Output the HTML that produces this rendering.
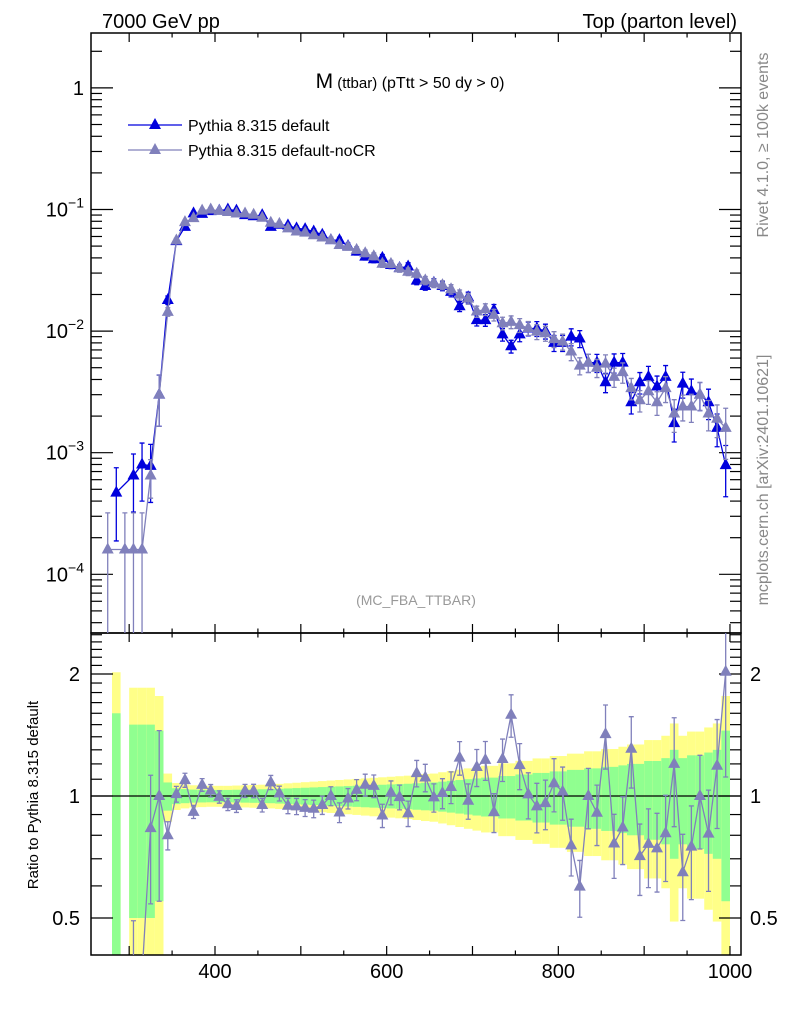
<!DOCTYPE html>
<html><head><meta charset="utf-8"><style>
html,body{margin:0;padding:0;background:#fff;width:786px;height:1024px;overflow:hidden;}
svg{display:block;font-family:"Liberation Sans","DejaVu Sans",sans-serif;}
</style></head><body>
<svg id="chart" width="786" height="1024" viewBox="0 0 786 1024" xmlns="http://www.w3.org/2000/svg">
<defs>
<clipPath id="clipMain"><rect x="91" y="33" width="650" height="600"/></clipPath>
<clipPath id="clipRatio"><rect x="91" y="633" width="650" height="322"/></clipPath>
</defs>
<g id="bands" clip-path="url(#clipRatio)"></g>
<g id="axes"></g>
<g id="mainSeries" clip-path="url(#clipMain)"></g>
<g id="ratioSeries" clip-path="url(#clipRatio)"></g>
<text x="102" y="28" font-size="20">7000 GeV pp</text>
<text x="737" y="28" font-size="20" text-anchor="end">Top (parton level)</text>
<text x="410" y="88" text-anchor="middle"><tspan font-size="21">M</tspan><tspan font-size="15"> (ttbar)</tspan><tspan font-size="16"> (pTtt &gt; 50 dy &gt; 0)</tspan></text>
<g>
<g>
<line x1="128" y1="125" x2="182" y2="125" stroke="#0000dd" stroke-width="1.3"/>
<polygon points="155,118 161,129 149,129" fill="#0000dd"/>
<text x="188" y="131" font-size="16">Pythia 8.315 default</text>
</g>
<g>
<line x1="128" y1="150" x2="182" y2="150" stroke="#8080bb" stroke-width="1.3"/>
<polygon points="155,143 161,154 149,154" fill="#8080bb"/>
<text x="188" y="156" font-size="16">Pythia 8.315 default-noCR</text>
</g>
</g>
<text x="416" y="605" font-size="14" fill="#999" text-anchor="middle">(MC_FBA_TTBAR)</text>
<text transform="translate(768,145) rotate(-90)" font-size="16" fill="#888" text-anchor="middle">Rivet 4.1.0, ≥ 100k events</text>
<text transform="translate(768,480) rotate(-90)" font-size="16" fill="#888" text-anchor="middle">mcplots.cern.ch [arXiv:2401.10621]</text>
<text transform="translate(38,795) rotate(-90)" font-size="15" text-anchor="middle">Ratio to Pythia 8.315 default</text>
</svg>
<script>
const binCenters = [275,285,295,305,315,325,335,345,355,365,375,385,395,405,415,425,435,445,455,465,475,485,495,505,515,525,535,545,555,565,575,585,595,605,615,625,635,645,655,665,675,685,695,705,715,725,735,745,755,765,775,785,795,805,815,825,835,845,855,865,875,885,895,905,915,925,935,945,955,965,975,985,995];
const defaultVals = [null,4.7e-4,null,6.5e-4,8.0e-4,7.8e-4,3.0e-3,0.018,0.055,0.072,0.093,0.092,0.097,0.098,0.100,0.098,0.090,0.088,0.090,0.072,0.075,0.074,0.070,0.069,0.066,0.062,0.056,0.056,0.050,0.045,0.041,0.039,0.040,0.035,0.033,0.034,0.026,0.0235,0.025,0.0235,0.021,0.016,0.019,0.0123,0.0123,0.0149,0.0094,0.0075,0.0094,0.0105,0.0105,0.0100,0.0080,0.0080,0.0090,0.0087,0.0055,0.0055,0.0038,0.0055,0.0055,0.0026,0.0038,0.0042,0.0035,0.0042,0.00175,0.0037,0.0032,0.0030,0.0026,0.0016,0.00079];
const noCRVals = [1.6e-4,null,1.6e-4,1.6e-4,1.6e-4,6.5e-4,3.0e-3,0.0144,0.0556,0.0788,0.085,0.098,0.100,0.0975,0.0954,0.0926,0.0927,0.0906,0.0855,0.0778,0.0761,0.070,0.066,0.0645,0.0614,0.0589,0.056,0.051,0.0493,0.0466,0.0437,0.0413,0.0358,0.0357,0.0328,0.0308,0.0296,0.0261,0.0248,0.0239,0.0221,0.0199,0.0185,0.0145,0.0151,0.0136,0.0116,0.0119,0.0112,0.0106,0.0099,0.0096,0.0086,0.0082,0.0068,0.0052,0.0055,0.0050,0.0054,0.0042,0.0046,0.0034,0.0027,0.0032,0.0026,0.0034,0.0021,0.0024,0.0024,0.0030,0.0021,0.0019,0.0016];
const relErrDefault = [null,0.6,null,0.5,0.5,0.5,0.45,0.08,0.045,0.04,0.037,0.036,0.035,0.035,0.035,0.036,0.037,0.038,0.039,0.04,0.042,0.044,0.046,0.048,0.05,0.052,0.054,0.056,0.058,0.06,0.062,0.064,0.066,0.068,0.07,0.072,0.075,0.078,0.08,0.085,0.09,0.095,0.1,0.105,0.11,0.11,0.12,0.12,0.13,0.13,0.14,0.14,0.15,0.15,0.16,0.16,0.17,0.17,0.18,0.18,0.19,0.2,0.2,0.22,0.22,0.24,0.3,0.24,0.26,0.26,0.28,0.3,0.45];
const relErrNoCR = [1.0,null,1.0,1.0,1.0,0.35,0.45,0.08,0.045,0.04,0.037,0.036,0.035,0.035,0.035,0.036,0.037,0.038,0.039,0.04,0.042,0.044,0.046,0.048,0.05,0.052,0.054,0.056,0.058,0.06,0.062,0.064,0.066,0.068,0.07,0.072,0.075,0.078,0.08,0.085,0.09,0.095,0.1,0.105,0.11,0.11,0.12,0.12,0.13,0.13,0.14,0.14,0.15,0.15,0.16,0.16,0.17,0.17,0.18,0.18,0.19,0.2,0.2,0.22,0.22,0.24,0.3,0.24,0.26,0.26,0.28,0.3,0.45];
const xTickLabels = [400,600,800,1000];
const yDecades = [-4,-3,-2,-1,0];
const ratioTickLabels = [0.5,1,2];

const NS = "http://www.w3.org/2000/svg";
const BIN_W = 10, YELLOW_K = 1.7;
const X0 = 91, X1 = 741, MT = 33, MB = 633, RB = 955;
function xs(v){ return 215 + (v - 400) * 0.8583; }
function ys(v){ return 452.7 - 121.6 * (Math.log10(v) + 3); }
function yr(r){ return 796 - 122 * Math.log2(r); }
function clampY(y, lo, hi){ return Math.max(lo, Math.min(hi, y)); }
function mk(tag, attrs, parent){ const e = document.createElementNS(NS, tag); for (const k in attrs) e.setAttribute(k, attrs[k]); parent.appendChild(e); return e; }

const axes = document.getElementById('axes');
const bands = document.getElementById('bands');
const mainG = document.getElementById('mainSeries');
const ratioG = document.getElementById('ratioSeries');

binCenters.forEach((c, i) => {
  const e = relErrDefault[i];
  if (e == null || defaultVals[i] == null) return;
  const xa = xs(c - BIN_W/2), xb = xs(c + BIN_W/2);
  const ylo = 1 - YELLOW_K*e, yhi = 1 + YELLOW_K*e;
  const yt = clampY(yr(yhi), MB, RB), ybt = ylo > 0 ? clampY(yr(ylo), MB, RB) : RB;
  const yb = mk('rect', {x: xa, y: yt, width: xb - xa, height: ybt - yt, fill: '#ffff88'}, bands);
  
  
  const glo = 1 - e, ghi = 1 + e;
  const gt = clampY(yr(ghi), MB, RB), gbt = glo > 0 ? clampY(yr(glo), MB, RB) : RB;
  const gb = mk('rect', {x: xa, y: gt, width: xb - xa, height: gbt - gt, fill: '#90ff90'}, bands);
  
  
});

const f1 = mk('rect', {x: X0, y: MT, width: X1-X0, height: MB-MT, fill: 'none', stroke: '#000', 'stroke-width': 1.5}, axes);


const f2 = mk('rect', {x: X0, y: MB, width: X1-X0, height: RB-MB, fill: 'none', stroke: '#000', 'stroke-width': 1.5}, axes);



for (let v = 300; v <= 1010; v += 50) {
  const x = xs(v); if (x < X0 || x > X1) continue;
  const major = v % 100 === 0;
  const L = major ? 9 : 4.5;
  [[RB, -1], [MB, 1], [MB, -1], [MT, 1]].forEach(([y0, d]) => {
    const t = mk('line', {x1: x, x2: x, y1: y0, y2: y0 + d*L, stroke: '#000', 'stroke-width': 1.2}, axes);
    
    
  });
}
xTickLabels.forEach(v => {
  const t = mk('text', {x: xs(v), y: 978, 'font-size': 20, 'text-anchor': 'middle'}, axes);
  t.textContent = v;
  
  
});

for (let d = -5; d <= 0; d++) {
  for (let m = 1; m <= 9; m++) {
    const y = ys(m * Math.pow(10, d));
    if (y < MT || y > MB) continue;
    const L = m === 1 ? 22 : 11;
    [[X0, 1], [X1, -1]].forEach(([x0, s]) => {
      const t = mk('line', {x1: x0, x2: x0 + s*L, y1: y, y2: y, stroke: '#000', 'stroke-width': 1.2}, axes);
      
      
    });
  }
}
yDecades.forEach(d => {
  const y = ys(Math.pow(10, d));
  const t = mk('text', {x: 84, y: y + 7, 'font-size': 20, 'text-anchor': 'end'}, axes);
  
  
  if (d === 0) { t.textContent = '1'; }
  else {
    const a = document.createElementNS(NS, 'tspan'); a.textContent = '10'; t.appendChild(a);
    const b = document.createElementNS(NS, 'tspan'); b.setAttribute('dy', '-9'); b.setAttribute('font-size', '14'); b.textContent = String(d).replace('-', '\u2212'); t.appendChild(b);
  }
});

for (let k = 4; k <= 25; k++) {
  const r = k / 10;
  const y = yr(r); if (y < MB || y > RB) continue;
  const major = (k === 5 || k === 10 || k === 20);
  const L = major ? 22 : 11;
  [[X0, 1], [X1, -1]].forEach(([x0, s]) => {
    const t = mk('line', {x1: x0, x2: x0 + s*L, y1: y, y2: y, stroke: '#000', 'stroke-width': 1.2}, axes);
    
    
  });
}
ratioTickLabels.forEach(r => {
  const y = yr(r) + 7;
  const a = mk('text', {x: 80, y: y, 'font-size': 20, 'text-anchor': 'end'}, axes);
  a.textContent = r;
  
  
  const b = mk('text', {x: 750, y: y, 'font-size': 20, 'text-anchor': 'start'}, axes);
  b.textContent = r;
  
  
});
const one = mk('line', {x1: X0, x2: X1, y1: yr(1), y2: yr(1), stroke: '#000', 'stroke-width': 1.3}, axes);



function tri(g, x, y, col, name){
  const p = mk('polygon', {points: `${x},${y-7} ${x+6},${y+4} ${x-6},${y+4}`, fill: col}, g);
  
  
}
function errbar(g, x, y1, y2, col){
  const e = mk('path', {d: `M${x},${y1}V${y2}M${x-2.5},${y1}H${x+2.5}M${x-2.5},${y2}H${x+2.5}`, stroke: col, 'stroke-width': 1.3, fill: 'none'}, g);
  
  
}
function drawMain(vals, errs, col, name){
  const g = mk('g', {}, mainG);
  
  
  const pts = [];
  binCenters.forEach((c, i) => { if (vals[i] != null) pts.push([xs(c), ys(vals[i])]); });
  const line = mk('polyline', {points: pts.map(p => p.join(',')).join(' '), fill: 'none', stroke: col, 'stroke-width': 1.3}, g);
  
  
  binCenters.forEach((c, i) => {
    const v = vals[i]; if (v == null) return;
    const e = errs[i] || 0;
    const lo = v * (1 - e);
    errbar(g, xs(c), ys(v * (1 + e)), lo > 0 ? clampY(ys(lo), MT, MB + 3) : MB + 3, col);
  });
  binCenters.forEach((c, i) => { if (vals[i] != null) tri(g, xs(c), ys(vals[i]), col, name + '-point'); });
}
drawMain(defaultVals, relErrDefault, '#0000dd', 'series-default');
drawMain(noCRVals, relErrNoCR, '#8080bb', 'series-nocr');

(function(){
  const col = '#8080bb';
  const pts = [];
  binCenters.forEach((c, i) => {
    if (defaultVals[i] == null || noCRVals[i] == null) return;
    pts.push([c, noCRVals[i] / defaultVals[i], relErrNoCR[i]]);
  });
  const line = mk('polyline', {points: pts.map(p => xs(p[0]) + ',' + clampY(yr(p[1]), MB - 20, RB + 20)).join(' '), fill: 'none', stroke: col, 'stroke-width': 1.3}, ratioG);
  
  
  pts.forEach(p => {
    const lo = p[1] * (1 - p[2]);
    errbar(ratioG, xs(p[0]), clampY(yr(p[1] * (1 + p[2])), MB - 3, RB + 3), lo > 0 ? clampY(yr(lo), MB - 3, RB + 3) : RB + 3, col);
  });
  pts.forEach(p => tri(ratioG, xs(p[0]), clampY(yr(p[1]), MB - 20, RB + 20), col, 'ratio-point'));
})();
</script>
</body></html>
